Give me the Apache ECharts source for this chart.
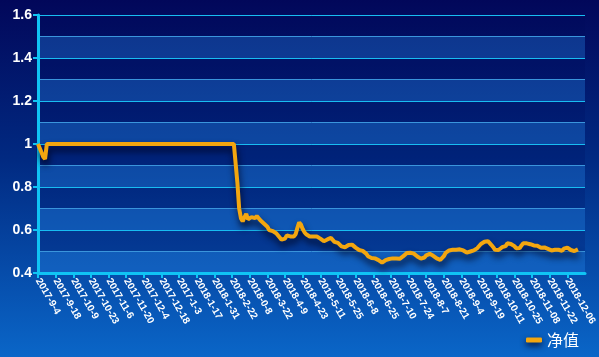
<!DOCTYPE html>
<html>
<head>
<meta charset="utf-8">
<script src="https://cdn.jsdelivr.net/npm/echarts@6/dist/echarts.min.js"></script>
<style>
html,body{margin:0;padding:0;width:599px;height:357px;overflow:hidden;}
body{background:linear-gradient(180deg,#02075a 0%,#012a82 45%,#0a66c8 100%);}
#chart{width:599px;height:357px;}
</style>
</head>
<body>
<div id="chart"></div>
<script>
var seriesName = '净值';

var categories = [
'2017-9-4','2017-9-5','2017-9-6','2017-9-7','2017-9-8','2017-9-11','2017-9-12','2017-9-13','2017-9-14','2017-9-15',
'2017-9-18','2017-9-19','2017-9-20','2017-9-21','2017-9-22','2017-9-25','2017-9-26','2017-9-27','2017-9-28','2017-9-29',
'2017-10-9','2017-10-10','2017-10-11','2017-10-12','2017-10-13','2017-10-16','2017-10-17','2017-10-18','2017-10-19','2017-10-20',
'2017-10-23','2017-10-24','2017-10-25','2017-10-26','2017-10-27','2017-10-30','2017-10-31','2017-11-1','2017-11-2','2017-11-3',
'2017-11-6','2017-11-7','2017-11-8','2017-11-9','2017-11-10','2017-11-13','2017-11-14','2017-11-15','2017-11-16','2017-11-17',
'2017-11-20','2017-11-21','2017-11-22','2017-11-23','2017-11-24','2017-11-27','2017-11-28','2017-11-29','2017-11-30','2017-12-1',
'2017-12-4','2017-12-5','2017-12-6','2017-12-7','2017-12-8','2017-12-11','2017-12-12','2017-12-13','2017-12-14','2017-12-15',
'2017-12-18','2017-12-19','2017-12-20','2017-12-21','2017-12-22','2017-12-26','2017-12-27','2017-12-28','2017-12-29','2018-1-2',
'2017-1-3','2018-1-4','2018-1-5','2018-1-8','2018-1-9','2018-1-10','2018-1-11','2018-1-12','2018-1-15','2018-1-16',
'2018-1-17','2018-1-18','2018-1-19','2018-1-22','2018-1-23','2018-1-24','2018-1-25','2018-1-26','2018-1-29','2018-1-30',
'2018-1-31','2018-2-1','2018-2-2','2018-2-5','2018-2-6','2018-2-7','2018-2-8','2018-2-9','2018-2-12','2018-2-13',
'2018-2-22','2018-2-23','2018-2-26','2018-2-27','2018-2-28','2018-3-1','2018-3-2','2018-3-5','2018-3-6','2018-3-7',
'2018-0-8','2018-3-9','2018-3-12','2018-3-13','2018-3-14','2018-3-15','2018-3-16','2018-3-19','2018-3-20','2018-3-21',
'2018-3-22','2018-3-23','2018-3-26','2018-3-27','2018-3-28','2018-3-29','2018-3-30','2018-4-2','2018-4-3','2018-4-4',
'2018-4-9','2018-4-10','2018-4-11','2018-4-12','2018-4-13','2018-4-16','2018-4-17','2018-4-18','2018-4-19','2018-4-20',
'2018-4-23','2018-4-24','2018-4-25','2018-4-26','2018-4-27','2018-5-3','2018-5-4','2018-5-7','2018-5-8','2018-5-10',
'2018-5-11','2018-5-14','2018-5-15','2018-5-16','2018-5-17','2018-5-18','2018-5-21','2018-5-22','2018-5-23','2018-5-24',
'2018-5-25','2018-5-28','2018-5-29','2018-5-30','2018-5-31','2018-6-1','2018-6-4','2018-6-5','2018-6-6','2018-6-7',
'2018-6-8','2018-6-11','2018-6-12','2018-6-13','2018-6-14','2018-6-15','2018-6-19','2018-6-20','2018-6-21','2018-6-22',
'2018-6-25','2018-6-26','2018-6-27','2018-6-28','2018-6-29','2018-7-2','2018-7-3','2018-7-4','2018-7-5','2018-7-9',
'2018-7-10','2018-7-11','2018-7-12','2018-7-13','2018-7-16','2018-7-17','2018-7-18','2018-7-19','2018-7-20','2018-7-23',
'2018-7-24','2018-7-25','2018-7-26','2018-7-27','2018-7-30','2018-7-31','2018-8-1','2018-8-2','2018-8-3','2018-8-6',
'2018-8-7','2018-8-8','2018-8-9','2018-8-10','2018-8-13','2018-8-14','2018-8-15','2018-8-16','2018-8-17','2018-8-20',
'2018-8-21','2018-8-22','2018-8-23','2018-8-24','2018-8-27','2018-8-28','2018-8-29','2018-8-30','2018-8-31','2018-9-3',
'2018-9-4','2018-9-6','2018-9-7','2018-9-10','2018-9-11','2018-9-12','2018-9-13','2018-9-14','2018-9-17','2018-9-18',
'2018-9-19','2018-9-20','2018-9-21','2018-9-25','2018-9-26','2018-9-27','2018-9-28','2018-10-8','2018-10-9','2018-10-10',
'2018-10-11','2018-10-12','2018-10-15','2018-10-16','2018-10-17','2018-10-18','2018-10-19','2018-10-22','2018-10-23','2018-10-24',
'2018-10-25','2018-10-26','2018-10-29','2018-10-30','2018-10-31','2018-11-01','2018-11-02','2018-11-05','2018-11-06','2018-11-07',
'2018-11-08','2018-11-09','2018-11-12','2018-11-13','2018-11-14','2018-11-15','2018-11-16','2018-11-19','2018-11-20','2018-11-21',
'2018-11-22','2018-11-23','2018-11-26','2018-11-27','2018-11-28','2018-11-29','2018-11-30','2018-12-03','2018-12-04','2018-12-05',
'2018-12-06','2018-12-07','2018-12-10','2018-12-11','2018-12-12','2018-12-13','2018-12-14','2018-12-17','2018-12-18','2018-12-19',
'2018-12-20'
];

var netValues = [
1.0,0.98,0.96,0.94,0.93,1.0,1.0,1.0,1.0,1.0,
1.0,1.0,1.0,1.0,1.0,1.0,1.0,1.0,1.0,1.0,
1.0,1.0,1.0,1.0,1.0,1.0,1.0,1.0,1.0,1.0,
1.0,1.0,1.0,1.0,1.0,1.0,1.0,1.0,1.0,1.0,
1.0,1.0,1.0,1.0,1.0,1.0,1.0,1.0,1.0,1.0,
1.0,1.0,1.0,1.0,1.0,1.0,1.0,1.0,1.0,1.0,
1.0,1.0,1.0,1.0,1.0,1.0,1.0,1.0,1.0,1.0,
1.0,1.0,1.0,1.0,1.0,1.0,1.0,1.0,1.0,1.0,
1.0,1.0,1.0,1.0,1.0,1.0,1.0,1.0,1.0,1.0,
1.0,1.0,1.0,1.0,1.0,1.0,1.0,1.0,1.0,1.0,
1.0,1.0,1.0,1.0,1.0,1.0,1.0,1.0,1.0,1.0,
1.0,1.0,1.0,0.82,0.70,0.655,0.64,0.66,0.675,0.65,
0.655,0.66,0.66,0.655,0.665,0.66,0.645,0.64,0.63,0.625,
0.615,0.60,0.605,0.595,0.59,0.585,0.58,0.565,0.555,0.55,
0.56,0.575,0.58,0.57,0.565,0.57,0.58,0.61,0.635,0.625,
0.605,0.59,0.58,0.575,0.57,0.575,0.57,0.565,0.57,0.563,
0.56,0.553,0.548,0.548,0.556,0.562,0.563,0.558,0.545,0.542,
0.54,0.533,0.524,0.52,0.52,0.526,0.53,0.532,0.532,0.525,
0.518,0.51,0.507,0.506,0.503,0.497,0.49,0.478,0.47,0.47,
0.472,0.468,0.466,0.46,0.454,0.448,0.45,0.46,0.468,0.465,
0.462,0.468,0.47,0.467,0.465,0.466,0.47,0.478,0.487,0.493,
0.496,0.494,0.492,0.49,0.485,0.477,0.472,0.467,0.466,0.472,
0.482,0.49,0.489,0.487,0.48,0.474,0.468,0.462,0.461,0.467,
0.478,0.494,0.5,0.505,0.508,0.508,0.508,0.508,0.509,0.51,
0.514,0.505,0.497,0.495,0.502,0.5,0.495,0.505,0.51,0.516,
0.524,0.535,0.542,0.545,0.54,0.548,0.54,0.53,0.52,0.508,
0.504,0.507,0.513,0.52,0.522,0.525,0.538,0.542,0.535,0.527,
0.525,0.515,0.512,0.516,0.528,0.538,0.54,0.538,0.536,0.534,
0.532,0.528,0.526,0.527,0.525,0.518,0.516,0.519,0.516,0.512,
0.508,0.505,0.506,0.508,0.51,0.508,0.501,0.503,0.513,0.52,
0.518,0.511,0.507,0.5,0.502,0.505,0.51
];

var yMin = 0.4, yMax = 1.6, yLabelStep = 0.2, yBandStep = 0.1;
var labelEvery = 10, lastLabelIndex = 300;

function showTick(i) { return i % labelEvery === 0 && i <= lastLabelIndex; }

var chart = echarts.init(document.getElementById('chart'), null, {renderer: 'canvas'});
chart.setOption({
  backgroundColor: 'transparent',
  animation: false,
  grid: {left: 38, right: 14, top: 15, bottom: 84, containLabel: false, outerBoundsMode: 'none'},
  legend: {
    data: [seriesName],
    right: 15, bottom: 4,
    icon: 'roundRect',
    itemWidth: 16, itemHeight: 5, itemGap: 10,
    itemStyle: {shadowColor: 'rgba(0,0,30,0.85)', shadowBlur: 6, shadowOffsetY: 3},
    textStyle: {color: '#ffffff', fontSize: 16, fontFamily: 'Noto Sans CJK SC'}
  },
  xAxis: {
    type: 'category',
    boundaryGap: false,
    data: categories,
    axisLine: {lineStyle: {color: '#10c4f4', width: 3}},
    axisTick: {show: true, interval: function (i) { return showTick(i); }, length: 5, lineStyle: {color: '#10c4f4', width: 2}},
    axisLabel: {
      interval: function (i) { return showTick(i); },
      rotate: -60, color: '#ffffff', fontSize: 10, fontWeight: 'bold', margin: 6,
      fontFamily: 'Liberation Sans'
    },
    splitLine: {show: false}
  },
  yAxis: [
    {
      type: 'value', position: 'left', min: yMin, max: yMax, interval: yBandStep,
      axisLine: {show: false}, axisTick: {show: false}, axisLabel: {show: false},
      splitLine: {show: true, lineStyle: {color: '#3a95dc', width: 1}},
      splitArea: {show: true, areaStyle: {color: ['rgba(40,140,235,0.32)', 'rgba(0,10,90,0.2)']}}
    },
    {
      type: 'value', position: 'left', offset: 0, min: yMin, max: yMax, interval: yLabelStep,
      axisLine: {show: true, lineStyle: {color: '#10c4f4', width: 3}},
      axisTick: {show: true, length: 5, lineStyle: {color: '#10c4f4', width: 2}},
      axisLabel: {color: '#ffffff', fontSize: 14, fontWeight: 'bold', margin: 6, fontFamily: 'Liberation Sans'},
      splitLine: {show: true, lineStyle: {color: '#18bdf2', width: 1}},
      splitArea: {show: false}
    }
  ],
  series: [{
    name: seriesName,
    type: 'line',
    yAxisIndex: 1,
    data: netValues,
    showSymbol: false,
    symbol: 'none',
    color: '#f3a60f',
    lineStyle: {width: 4, color: '#f3a60f', shadowColor: 'rgba(0,0,25,0.85)', shadowBlur: 7, shadowOffsetY: 5, shadowOffsetX: 1}
  }]
});
</script>
</body>
</html>
